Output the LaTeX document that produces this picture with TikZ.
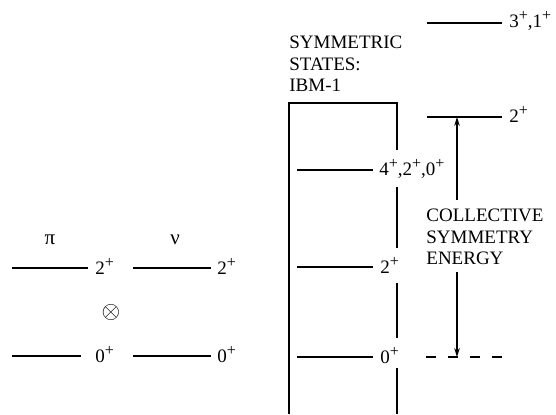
\documentclass[tikz,border=0pt]{standalone}
\usepackage{fontspec}
\setmainfont{Liberation Serif}
\usetikzlibrary{arrows.meta}
\newcommand\plussup{\raisebox{3.4pt}{\fontsize{8}{8}\selectfont +}}
\begin{document}
\begin{tikzpicture}[x=0.5pt,y=-0.5pt,
  lvl/.style={line width=1.4pt},
  thin line/.style={line width=0.55pt},
  txt/.style={inner sep=0pt,font=\fontsize{9.5}{10.75}\selectfont},
  lbl/.style={txt,anchor=base west},
  arr/.style={line width=0.55pt,-{Stealth[length=4.5pt,width=2.8pt]}}]
\useasboundingbox (0,0) rectangle (556,414);
% ---- left: proton and neutron levels
\node[txt,font=\fontsize{10.5}{12}\selectfont] (pi) at (50,240) {π};
\node[txt,font=\fontsize{10.5}{12}\selectfont] (nu) at (175,240) {ν};
\coordinate (p2a) at (12,268); \coordinate (p2b) at (88,268);
\coordinate (n2a) at (133,268); \coordinate (n2b) at (211,268);
\coordinate (p0a) at (12,356); \coordinate (p0b) at (81,356);
\coordinate (n0a) at (133,356); \coordinate (n0b) at (211,356);
\draw[lvl] (p2a) -- (p2b); \draw[lvl] (n2a) -- (n2b);
\draw[lvl] (p0a) -- (p0b); \draw[lvl] (n0a) -- (n0b);
\node[lbl] (p2l) at ([xshift=3.5pt,yshift=-3pt]p2b) {2\plussup};
\node[lbl] (n2l) at ([xshift=3pt,yshift=-3pt]n2b) {2\plussup};
\node[lbl] (p0l) at ([xshift=7pt,yshift=-3pt]p0b) {0\plussup};
\node[lbl] (n0l) at ([xshift=3pt,yshift=-3pt]n0b) {0\plussup};
\node[txt,font=\fontsize{12}{12}\selectfont] (otimes) at (111,312) {$\otimes$};
% ---- middle: IBM-1 symmetric states
\node[txt,anchor=north west,align=left] (title) at (289,36) {SYMMETRIC\\STATES:\\IBM-1};
\coordinate (btl) at (289,103); \coordinate (btr) at (397,103);
\coordinate (bbl) at (289,414); \coordinate (bbr) at (397,414);
\draw[thin line] (bbl) -- (btl) -- (btr) -- (397,150);
\draw[thin line] (397,187) -- (397,248);
\draw[thin line] (397,283) -- (397,338);
\draw[thin line] (397,368) -- (bbr);
\coordinate (s4a) at (297,170); \coordinate (s4b) at (373,170);
\coordinate (s2a) at (297,267); \coordinate (s2b) at (373,267);
\coordinate (s0a) at (297,357); \coordinate (s0b) at (373,357);
\draw[lvl] (s4a) -- (s4b); \draw[lvl] (s2a) -- (s2b); \draw[lvl] (s0a) -- (s0b);
\node[lbl] (s4l) at ([xshift=3pt,yshift=-2.5pt]s4b) {4\plussup,2\plussup,0\plussup};
\node[lbl] (s2l) at ([xshift=3.5pt,yshift=-3pt]s2b) {2\plussup};
\node[lbl] (s0l) at ([xshift=3.5pt,yshift=-3pt]s0b) {0\plussup};
% ---- right: mixed-symmetry states
\coordinate (m3a) at (427,23); \coordinate (m3b) at (502,23);
\coordinate (m2a) at (427,117); \coordinate (m2b) at (502,117);
\coordinate (m0a) at (426,357); \coordinate (m0b) at (502,357);
\draw[lvl] (m3a) -- (m3b); \draw[lvl] (m2a) -- (m2b);
\draw[lvl,line width=1.2pt,dash pattern=on 5pt off 6pt] (m0a) -- (m0b);
\node[lbl] (m3l) at ([xshift=3.5pt,yshift=-2pt]m3b) {3\plussup,1\plussup};
\node[lbl] (m2l) at ([xshift=3.5pt,yshift=-2.5pt]m2b) {2\plussup};
\node[txt,anchor=north west,align=left] (cse) at (426,209) {COLLECTIVE\\SYMMETRY\\ENERGY};
\coordinate (atop) at (457,117); \coordinate (abot) at (457,357);
\draw[arr] ([yshift=4.5pt]cse.north -| atop) -- (atop);
\draw[arr] ([yshift=-3pt]cse.south -| abot) -- (abot);
\end{tikzpicture}
\end{document}
